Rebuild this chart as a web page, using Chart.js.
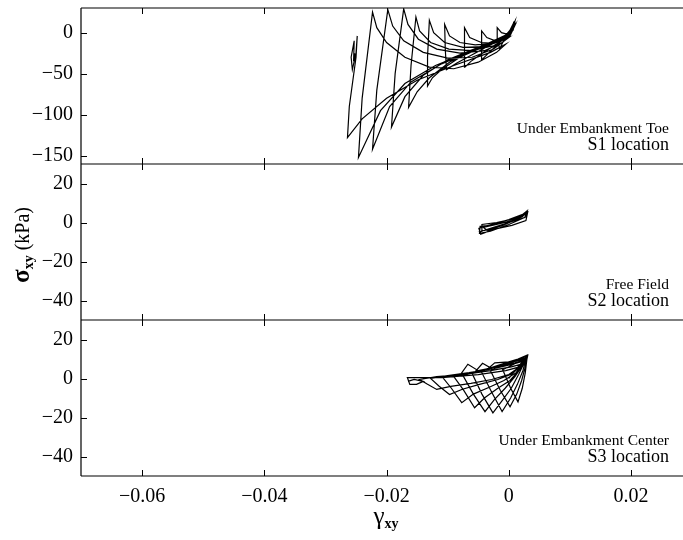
<!DOCTYPE html>
<html>
<head>
<meta charset="utf-8">
<script src="https://cdn.jsdelivr.net/npm/chart.js@4.4.1/dist/chart.umd.min.js"></script>
<style>
  html, body { margin: 0; padding: 0; background: #fff; }
  canvas { display: block; }
</style>
</head>
<body>
<canvas id="grafico" width="683" height="540"></canvas>
<script>
const serif = "'Liberation Serif', 'Times New Roman', serif";

// Ticks de cada eje
const xTicks = [-0.06, -0.04, -0.02, 0, 0.02];
const s1Ticks = [-150, -100, -50, 0];
const s23Ticks = [-40, -20, 0, 20];

// Textos de cada panel
const panelTitulos = ['Under Embankment Toe', 'Free Field', 'Under Embankment Center'];
const panelLugares = ['S1 location', 'S2 location', 'S3 location'];

// S1: deformación (γxy) y esfuerzo (σxy, kPa)
const s1Path = [
  [0, 0], [0.0006, 8], [0.0009, 14], [0.0004, 4], [-0.0002, -6], [0.0003, 2], [0.0008, 12],
  [0.0000, 0], [-0.0010, -12], [-0.0015, -20], [-0.0018, -8], [-0.0019, 6], [-0.0012, 0], [-0.0002, -2], [0.0008, 8], [0.0010, 14],
  [0.0002, 2], [-0.0015, -12], [-0.0032, -24], [-0.0044, -33], [-0.0045, -15], [-0.0044, 2], [-0.0036, -6], [-0.0022, -10], [-0.0008, -6], [0.0006, 4], [0.0010, 12],
  [0.0000, -2], [-0.0020, -14], [-0.0045, -26], [-0.0062, -35], [-0.0072, -42], [-0.0073, -20], [-0.0072, 6], [-0.0064, -6], [-0.0045, -12], [-0.0025, -13], [-0.0005, -7], [0.0008, 6],
  [-0.0005, -4], [-0.0030, -15], [-0.0060, -27], [-0.0085, -37], [-0.0102, -45], [-0.0104, -20], [-0.0105, 10], [-0.0097, -4], [-0.0080, -12], [-0.0055, -15], [-0.0025, -13], [0.0000, -4], [0.0010, 10],
  [-0.0005, -3], [-0.0040, -15], [-0.0080, -30], [-0.0110, -45], [-0.0125, -55], [-0.0133, -65], [-0.0133, -30], [-0.0130, 15], [-0.0123, 0], [-0.0105, -12], [-0.0075, -18], [-0.0040, -17], [-0.0010, -9], [0.0008, 6],
  [-0.0008, -6], [-0.0050, -20], [-0.0095, -35], [-0.0130, -55], [-0.0150, -72], [-0.0164, -91], [-0.0160, -40], [-0.0152, 19], [-0.0146, 2], [-0.0128, -12], [-0.0098, -20], [-0.0060, -22], [-0.0025, -16], [0.0002, -4], [0.0012, 12],
  [-0.0002, -4], [-0.0050, -18], [-0.0100, -33], [-0.0140, -52], [-0.0170, -78], [-0.0192, -115], [-0.0186, -50], [-0.0172, 29], [-0.0165, 10], [-0.0148, -8], [-0.0118, -20], [-0.0080, -25], [-0.0040, -22], [-0.0010, -12], [0.0008, 4],
  [-0.0010, -8], [-0.0060, -22], [-0.0110, -38], [-0.0160, -60], [-0.0195, -90], [-0.0223, -142], [-0.0216, -70], [-0.0198, 28], [-0.0190, 8], [-0.0172, -10], [-0.0140, -24], [-0.0100, -31], [-0.0060, -30], [-0.0025, -20], [0.0000, -6],
  [-0.0020, -12], [-0.0070, -25], [-0.0120, -40], [-0.0170, -62], [-0.0210, -95], [-0.0246, -152], [-0.0240, -80], [-0.0223, 25], [-0.0216, 6], [-0.0200, -12], [-0.0170, -30], [-0.0130, -42], [-0.0090, -44], [-0.0050, -36], [-0.0020, -24], [-0.0005, -14],
  [-0.0030, -24], [-0.0090, -40], [-0.0150, -58], [-0.0200, -80], [-0.0240, -105], [-0.0264, -128], [-0.0261, -90], [-0.0250, -30], [-0.0248, -4], [-0.0250, -25], [-0.0256, -45], [-0.0258, -30], [-0.0253, -10], [-0.0254, -35], [-0.0252, -25]
];

// S2: campo libre
const s2Path = [
  [0, 0], [0.0015, 2.5], [0.0025, 4], [0.0010, 1.5], [-0.0020, -2.5], [-0.0040, -4], [-0.0030, -3], [0.0000, 0], [0.0020, 3], [0.0030, 5],
  [0.0029, 3], [0.0000, -1], [-0.0030, -4.5], [-0.0048, -5.5], [-0.0047, -2], [-0.0030, -1.5], [0.0000, 1.5], [0.0025, 4.5], [0.0031, 5.5],
  [0.0028, 1], [0.0005, -1.5], [-0.0025, -3.5], [-0.0046, -6], [-0.0049, -3], [-0.0040, -2], [-0.0010, 0.5], [0.0020, 3.5], [0.0030, 6],
  [0.0026, 2.5], [0.0000, 0], [-0.0030, -3], [-0.0045, -4.5], [-0.0044, -1], [-0.0020, 0], [0.0010, 2], [0.0027, 4.5], [0.0022, 3],
  [-0.0010, -1.5], [-0.0035, -4], [-0.0042, -2.5], [-0.0020, -1], [0.0005, 1]
];

// S3: bajo el centro del terraplén
const s3Path = [
  [0, 0], [0.0015, 6], [0.0026, 10], [0.0012, 8], [0.0000, 6], [-0.0010, 4.5], [0.0003, -5], [0.0015, -12], [0.0022, -5], [0.0027, 3], [0.0030, 11],
  [0.0014, 9.5], [0.0000, 8], [-0.0018, 6], [-0.0030, 4], [-0.0014, -6], [0.0002, -14.5], [0.0013, -8], [0.0021, -1], [0.0027, 6], [0.0031, 12],
  [0.0015, 10], [0.0000, 8.5], [-0.0025, 6], [-0.0045, 3.5], [-0.0028, -7], [-0.0011, -17], [0.0003, -10], [0.0014, -3], [0.0023, 4], [0.0029, 11],
  [0.0014, 9.5], [-0.0002, 8], [-0.0036, 5], [-0.0060, 2.5], [-0.0044, -8], [-0.0026, -17.6], [-0.0010, -11], [0.0004, -5], [0.0016, 2], [0.0025, 8], [0.0030, 12],
  [0.0015, 10], [0.0000, 8.5], [-0.0023, 8], [-0.0036, 4.5], [-0.0060, 3], [-0.0075, 1.5], [-0.0058, -8], [-0.0039, -17], [-0.0024, -11], [-0.0006, -5], [0.0010, 1], [0.0021, 6], [0.0028, 10.5],
  [0.0013, 9], [-0.0005, 7.5], [-0.0030, 5.5], [-0.0043, 7.8], [-0.0055, 3.5], [-0.0075, 2], [-0.0090, 1], [-0.0074, -6], [-0.0056, -15], [-0.0040, -10], [-0.0018, -5], [0.0002, -1], [0.0016, 4], [0.0026, 9.5],
  [0.0010, 8], [-0.0020, 6], [-0.0050, 4], [-0.0067, 7.3], [-0.0078, 2.5], [-0.0095, 1.5], [-0.0108, 0.5], [-0.0094, -5], [-0.0077, -12.4], [-0.0058, -8], [-0.0032, -4.5], [-0.0008, -1], [0.0012, 3], [0.0025, 9],
  [0.0008, 7.5], [-0.0025, 5], [-0.0065, 3], [-0.0100, 1.5], [-0.0128, 0], [-0.0114, -4], [-0.0097, -8.2], [-0.0076, -5.5], [-0.0048, -3], [-0.0018, -0.5], [0.0006, 2.5], [0.0022, 7.5],
  [0.0004, 6], [-0.0030, 4], [-0.0075, 2], [-0.0118, 1], [-0.0146, -0.5], [-0.0133, -3], [-0.0118, -5.6], [-0.0095, -4], [-0.0062, -2.5], [-0.0028, -0.5], [0.0000, 2], [0.0018, 6],
  [-0.0005, 4], [-0.0050, 2], [-0.0110, 0.5], [-0.0166, 0.5], [-0.0162, -3], [-0.0151, -3], [-0.0140, -1.5], [-0.0155, -0.5], [-0.0165, -1.5]
];

const menos = s => s.replace('-', '\u2212');

function fmtX(v) {
  if (Math.abs(v) < 1e-9) return '0';
  return menos(v.toFixed(2));
}

function fmtY(v) {
  return menos(String(Math.round(v)));
}

function ejeY(min, max, ticks) {
  return {
    type: 'linear',
    position: 'left',
    stack: 'paneles',
    stackWeight: 1,
    min: min,
    max: max,
    afterBuildTicks: s => { s.ticks = ticks.map(v => ({ value: v })); },
    afterFit: s => { s.width = 81; s.paddingTop = 0; s.paddingBottom = 0; },
    grid: { display: false, drawTicks: false },
    border: { display: false },
    ticks: { color: '#000', autoSkip: false, padding: 8, font: { family: serif, size: 20 }, callback: v => fmtY(v) }
  };
}

function serie(path, eje) {
  return {
    data: path.map(p => ({ x: p[0], y: p[1] })),
    yAxisID: eje,
    showLine: true,
    borderColor: '#000',
    borderWidth: 1.2,
    pointRadius: 0,
    fill: false,
    tension: 0
  };
}

// Marco, ticks hacia adentro y textos
const marcoPlugin = {
  id: 'marco',
  afterDraw(chart) {
    const ctx = chart.ctx;
    const area = chart.chartArea;
    const sx = chart.scales.x;
    const paneles = [chart.scales.y1, chart.scales.y2, chart.scales.y3];
    ctx.save();
    ctx.strokeStyle = '#000';
    ctx.lineWidth = 1.2;

    ctx.beginPath();
    ctx.moveTo(area.left, area.top);
    ctx.lineTo(area.left, area.bottom);
    paneles.forEach(s => {
      ctx.moveTo(area.left, s.top);
      ctx.lineTo(area.right, s.top);
      ctx.moveTo(area.left, s.bottom);
      ctx.lineTo(area.right, s.bottom);
    });
    ctx.stroke();

    ctx.lineWidth = 1;
    ctx.beginPath();
    paneles.forEach(s => {
      xTicks.forEach(v => {
        const px = Math.round(sx.getPixelForValue(v)) + 0.5;
        ctx.moveTo(px, s.top);
        ctx.lineTo(px, s.top + 6);
        ctx.moveTo(px, s.bottom);
        ctx.lineTo(px, s.bottom - 6);
      });
      s.ticks.forEach(t => {
        const py = Math.round(s.getPixelForValue(t.value)) + 0.5;
        ctx.moveTo(area.left, py);
        ctx.lineTo(area.left + 6, py);
      });
    });
    ctx.stroke();

    ctx.fillStyle = '#000';
    ctx.textAlign = 'right';
    ctx.textBaseline = 'alphabetic';
    paneles.forEach((s, i) => {
      ctx.font = '15.5px ' + serif;
      ctx.fillText(panelTitulos[i], 669, s.bottom - 31);
      ctx.font = '18px ' + serif;
      ctx.fillText(panelLugares[i], 669, s.bottom - 14);
    });

    // Título eje Y: σxy (kPa)
    ctx.save();
    ctx.translate(23, 245);
    ctx.rotate(-Math.PI / 2);
    ctx.textAlign = 'left';
    const fSig = 'bold 25px ' + serif, fSub = 'bold 14px ' + serif, fUni = '20px ' + serif;
    ctx.font = fSig; const w1 = ctx.measureText('\u03c3').width;
    ctx.font = fSub; const w2 = ctx.measureText('xy').width;
    ctx.font = fUni; const w3 = ctx.measureText(' (kPa)').width;
    let x0 = -(w1 + w2 + w3) / 2;
    ctx.font = fSig; ctx.fillText('\u03c3', x0, 6);
    ctx.font = fSub; ctx.fillText('xy', x0 + w1, 10);
    ctx.font = fUni; ctx.fillText(' (kPa)', x0 + w1 + w2, 6);
    ctx.restore();

    // Título eje X: γxy
    ctx.textAlign = 'left';
    const cx = (area.left + area.right) / 2 + 4;
    ctx.font = '25px ' + serif; const g1 = ctx.measureText('\u03b3').width;
    ctx.font = fSub; const g2 = ctx.measureText('xy').width;
    const gx = cx - (g1 + g2) / 2;
    ctx.font = '25px ' + serif; ctx.fillText('\u03b3', gx, 524);
    ctx.font = fSub; ctx.fillText('xy', gx + g1, 528);
    ctx.restore();
  }
};

new Chart(document.getElementById('grafico').getContext('2d'), {
  type: 'scatter',
  data: {
    datasets: [serie(s1Path, 'y1'), serie(s2Path, 'y2'), serie(s3Path, 'y3')]
  },
  options: {
    responsive: false,
    animation: false,
    devicePixelRatio: 1,
    layout: { padding: { top: 8, right: 0, left: 0, bottom: 0 } },
    plugins: { legend: { display: false }, tooltip: { enabled: false } },
    scales: {
      x: {
        type: 'linear',
        position: 'bottom',
        min: -0.07,
        max: 0.0285,
        afterBuildTicks: s => { s.ticks = xTicks.map(v => ({ value: v })); },
        afterFit: s => { s.height = 64; s.paddingLeft = 0; s.paddingRight = 0; },
        grid: { display: false, drawTicks: false },
        border: { display: false },
        ticks: { color: '#000', autoSkip: false, maxRotation: 0, padding: 9, font: { family: serif, size: 20 }, callback: v => fmtX(v) }
      },
      y3: ejeY(-50, 30, s23Ticks),
      y2: ejeY(-50, 30, s23Ticks),
      y1: ejeY(-160, 30, s1Ticks)
    }
  },
  plugins: [marcoPlugin]
});
</script>
</body>
</html>
